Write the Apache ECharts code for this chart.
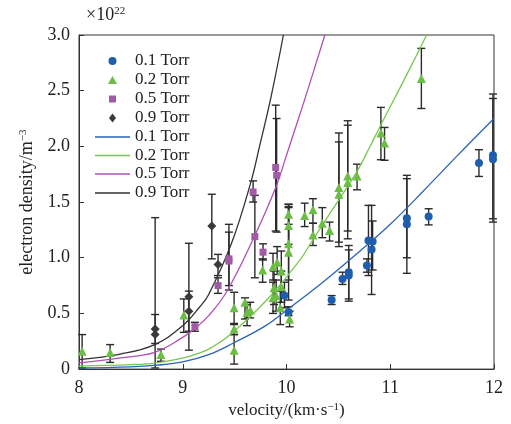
<!DOCTYPE html>
<html>
<head>
<meta charset="utf-8">
<script src="https://cdn.jsdelivr.net/npm/echarts@6/dist/echarts.min.js"></script>
<style>
  html, body { margin: 0; padding: 0; background: #fff; }
  #chart { width: 511px; height: 424px; }
</style>
</head>
<body>
<div id="chart"></div>
<script>
// Electron density (units of 1e22 m^-3) against velocity (km/s).
// Each pressure has measured points with low/high error bounds, plus a fitted curve.

const pressures = ['0.1 Torr', '0.2 Torr', '0.5 Torr', '0.9 Torr'];

// 0.1 Torr measurements
const v01  = [9.98, 10.02, 10.435, 10.54, 10.60, 10.60, 10.775, 10.79, 10.83, 10.82, 11.16, 11.16, 11.37, 11.855, 11.99, 11.99];
const n01  = [0.66, 0.51, 0.62, 0.81, 0.87, 0.84, 0.93, 1.155, 1.145, 1.075, 1.355, 1.30, 1.37, 1.85, 1.92, 1.885];
const lo01 = [0.55, 0.48, 0.58, 0.76, 0.63, 0.61, 0.87, 0.84, 0.89, 0.67, 1.00, 0.86, 1.295, 1.73, 1.35, 1.32];
const hi01 = [0.78, 0.56, 0.66, 0.87, 1.11, 1.07, 0.99, 1.47, 1.33, 1.47, 1.71, 1.74, 1.44, 1.97, 2.47, 2.43];

// 0.2 Torr measurements
const v02  = [8.03, 8.30, 8.79, 9.01, 9.495, 9.495, 9.495, 9.60, 9.62, 9.65, 9.77, 9.87, 9.91, 9.95, 9.88, 9.90, 9.95, 9.87, 9.94, 10.03, 10.02, 10.02, 10.02, 10.02, 10.175, 10.255, 10.255, 10.345, 10.415, 10.505, 10.505, 10.59, 10.59, 10.68, 10.91, 10.945, 11.30];
const n02  = [0.16, 0.15, 0.13, 0.485, 0.55, 0.36, 0.17, 0.60, 0.51, 0.53, 0.89, 0.92, 0.96, 0.88, 0.73, 0.66, 0.74, 0.64, 0.55, 0.45, 1.39, 1.29, 1.125, 1.05, 1.38, 1.43, 1.205, 1.31, 1.245, 1.63, 1.57, 1.735, 1.675, 1.735, 2.12, 2.03, 2.61];
const lo02 = [0.01, 0.06, 0.07, 0.33, 0.40, 0.31, 0.045, 0.45, 0.39, 0.46, 0.78, 0.80, 0.85, 0.70, 0.58, 0.52, 0.60, 0.50, 0.40, 0.38, 1.30, 1.12, 0.80, 0.62, 1.28, 1.31, 1.11, 1.18, 1.15, 1.14, 1.10, 1.24, 1.17, 1.61, 1.88, 1.875, 2.34];
const hi02 = [0.31, 0.22, 0.18, 0.63, 0.69, 0.41, 0.31, 0.64, 0.58, 0.60, 0.99, 1.04, 1.10, 1.06, 0.88, 0.80, 0.88, 0.78, 0.70, 0.52, 1.48, 1.46, 1.45, 1.48, 1.49, 1.53, 1.31, 1.45, 1.32, 2.12, 2.04, 2.23, 2.19, 1.84, 2.35, 2.17, 2.88];

// 0.5 Torr measurements
const v05  = [9.117, 9.34, 9.445, 9.445, 9.678, 9.695, 9.774, 9.896, 9.905];
const n05  = [0.38, 0.75, 0.99, 0.97, 1.59, 1.19, 1.05, 1.81, 1.74];
const lo05 = [0.34, 0.68, 0.71, 0.75, 1.50, 0.82, 0.98, 1.24, 1.23];
const hi05 = [0.42, 0.82, 1.30, 1.23, 1.69, 1.56, 1.125, 2.37, 2.25];

// 0.9 Torr measurements
const v09  = [8.734, 8.734, 9.059, 9.059, 9.28, 9.34];
const n09  = [0.36, 0.31, 0.65, 0.52, 1.286, 0.94];
const lo09 = [0.23, 0.01, 0.17, 0.34, 0.99, 0.84];
const hi09 = [0.49, 1.36, 1.13, 0.70, 1.57, 1.03];

// Fitted curves, sampled along velocity
const fit01V = [8.0, 8.5, 8.75, 9.0, 9.25, 9.48, 9.8, 10.03, 10.35, 10.77, 11.0, 11.31, 11.64, 12.0];
const fit01N = [0.01, 0.02, 0.035, 0.065, 0.13, 0.23, 0.39, 0.55, 0.78, 1.11, 1.30, 1.59, 1.91, 2.25];
const fit02V = [8.0, 8.5, 8.73, 9.0, 9.25, 9.485, 9.81, 10.13, 10.22, 10.35, 10.67, 10.80, 10.93, 11.19, 11.35];
const fit02N = [0.027, 0.04, 0.054, 0.10, 0.18, 0.33, 0.62, 0.98, 1.11, 1.30, 1.76, 1.99, 2.23, 2.70, 3.0];
const fit05V = [8.0, 8.4, 8.73, 9.0, 9.12, 9.25, 9.42, 9.68, 9.90, 10.01, 10.175, 10.37];
const fit05N = [0.055, 0.10, 0.15, 0.285, 0.367, 0.48, 0.69, 1.17, 1.64, 1.95, 2.42, 3.0];
const fit09V = [8.0, 8.4, 8.73, 9.0, 9.165, 9.25, 9.47, 9.66, 9.74, 9.85, 9.97];
const fit09N = [0.085, 0.135, 0.22, 0.39, 0.56, 0.67, 1.13, 1.69, 2.0, 2.44, 3.0];

// Axis ticks
const xTicks = [8, 9, 10, 11, 12];
const yTicks = [0, 0.5, 1.0, 1.5, 2.0, 2.5, 3.0];

const SERIF = 'Liberation Serif, Times New Roman, serif';
const TEXT = '#222';

const markerColors = ['#1f5eae', '#6cbd45', '#a259a6', '#3a3a3a'];
const lineColors   = ['#2a63b8', '#7ac74f', '#b04fb6', '#333333'];
const symbols      = ['circle', 'triangle', 'rect', 'diamond'];
const symbolSizes  = [8, 9, 7, 9];
const legendIconW  = [8, 9, 7, 7];
const legendIconH  = [8, 8, 7, 9];

const measured = [
  [v01, n01, lo01, hi01],
  [v02, n02, lo02, hi02],
  [v05, n05, lo05, hi05],
  [v09, n09, lo09, hi09]
];
const fits = [[fit01V, fit01N], [fit02V, fit02N], [fit05V, fit05N], [fit09V, fit09N]];

function zip(a, b) { return a.map((x, i) => [x, b[i]]); }

// vertical error bar with short caps
function errorBars(v, lo, hi) {
  return {
    type: 'custom',
    silent: true,
    z: 2,
    clip: false,
    data: v.map((x, i) => [x, lo[i], hi[i]]),
    encode: { x: 0, y: [1, 2] },
    renderItem: function (params, api) {
      const x = api.value(0);
      const a = api.coord([x, api.value(1)]);
      const b = api.coord([x, api.value(2)]);
      const w = 4;
      const style = { stroke: '#2b2b2b', lineWidth: 1.4, fill: null };
      return {
        type: 'group',
        children: [
          { type: 'line', shape: { x1: a[0], y1: a[1], x2: b[0], y2: b[1] }, style: style },
          { type: 'line', shape: { x1: a[0] - w, y1: a[1], x2: a[0] + w, y2: a[1] }, style: style },
          { type: 'line', shape: { x1: b[0] - w, y1: b[1], x2: b[0] + w, y2: b[1] }, style: style }
        ]
      };
    }
  };
}

const series = [];
measured.forEach((m) => series.push(errorBars(m[0], m[2], m[3])));
measured.forEach((m, k) => series.push({
  type: 'scatter',
  name: pressures[k],
  data: zip(m[0], m[1]),
  symbol: symbols[k],
  symbolSize: symbolSizes[k],
  itemStyle: { color: markerColors[k], opacity: 1 },
  z: 4
}));
fits.forEach((f, k) => series.push({
  type: 'line',
  name: pressures[k] + ' fit',
  data: zip(f[0], f[1]),
  smooth: 0.4,
  symbol: 'none',
  showSymbol: false,
  clip: true,
  lineStyle: { color: lineColors[k], width: 1.3 },
  itemStyle: { color: lineColors[k] },
  z: 3
}));

// one legend row per entry, markers first, then the fitted lines
const rowCenters = [61, 80, 99, 118, 137, 155.5, 174, 193];
const legendText = { fontFamily: SERIF, fontSize: 17, color: TEXT, lineHeight: 18 };
const legends = [];
pressures.forEach((p, k) => legends.push({
  data: [{ name: p, icon: symbols[k] }],
  left: 112.5 - legendIconW[k] / 2,
  top: rowCenters[k] - 9,
  padding: 0,
  itemGap: 0,
  itemWidth: legendIconW[k],
  itemHeight: legendIconH[k],
  selectedMode: false,
  textStyle: Object.assign({ padding: [0, 0, 0, 17.5 - legendIconW[k] / 2] }, legendText)
}));
pressures.forEach((p, k) => legends.push({
  data: [{ name: p + ' fit', icon: 'rect' }],
  left: 95,
  top: rowCenters[k + 4] - 9,
  padding: 0,
  itemGap: 0,
  itemWidth: 35,
  itemHeight: 1.4,
  selectedMode: false,
  formatter: s => s.replace(' fit', ''),
  textStyle: Object.assign({ padding: 0 }, legendText)
}));

const chart = echarts.init(document.getElementById('chart'), null, { renderer: 'canvas' });
chart.setOption({
  animation: false,
  backgroundColor: '#fff',
  legend: legends,
  grid: { left: 79, right: 17, top: 35, bottom: 53, show: true, borderColor: '#333', borderWidth: 1, backgroundColor: 'transparent' },
  xAxis: {
    type: 'value',
    min: xTicks[0],
    max: xTicks[xTicks.length - 1],
    interval: 1,
    name: 'velocity/(km·s{sup|−1})',
    nameLocation: 'middle',
    nameGap: 30,
    nameTextStyle: {
      fontFamily: SERIF, fontSize: 17, color: TEXT,
      rich: { sup: { fontFamily: SERIF, fontSize: 11, color: TEXT, verticalAlign: 'top', lineHeight: 10 } }
    },
    axisLine: { show: true, lineStyle: { color: '#333', width: 1 } },
    axisTick: { show: true, inside: true, length: 5, lineStyle: { color: '#333' } },
    axisLabel: { fontFamily: SERIF, fontSize: 18, color: TEXT, margin: 10, showMinLabel: true, showMaxLabel: true },
    splitLine: { show: false }
  },
  yAxis: {
    type: 'value',
    min: yTicks[0],
    max: yTicks[yTicks.length - 1],
    interval: 0.5,
    name: 'electron density/m{sup|−3}',
    nameLocation: 'middle',
    nameGap: 43,
    nameRotate: 90,
    nameTextStyle: {
      fontFamily: SERIF, fontSize: 18, color: TEXT,
      rich: { sup: { fontFamily: SERIF, fontSize: 11, color: TEXT, verticalAlign: 'top', lineHeight: 10 } }
    },
    axisLine: { show: true, lineStyle: { color: '#333', width: 1 } },
    axisTick: { show: true, inside: true, length: 5, lineStyle: { color: '#333' } },
    axisLabel: {
      fontFamily: SERIF, fontSize: 18, color: TEXT, margin: 9, showMinLabel: true, showMaxLabel: true,
      formatter: v => (v === 0 ? '0' : v.toFixed(1))
    },
    splitLine: { show: false }
  },
  graphic: [{
    type: 'text',
    left: 86,
    top: 6,
    style: {
      text: '×10{sup|22}',
      fontFamily: SERIF, fontSize: 18, fill: TEXT,
      rich: { sup: { fontFamily: SERIF, fontSize: 11, fill: TEXT, verticalAlign: 'top', lineHeight: 10 } }
    }
  }],
  series: series
});
</script>
</body>
</html>
